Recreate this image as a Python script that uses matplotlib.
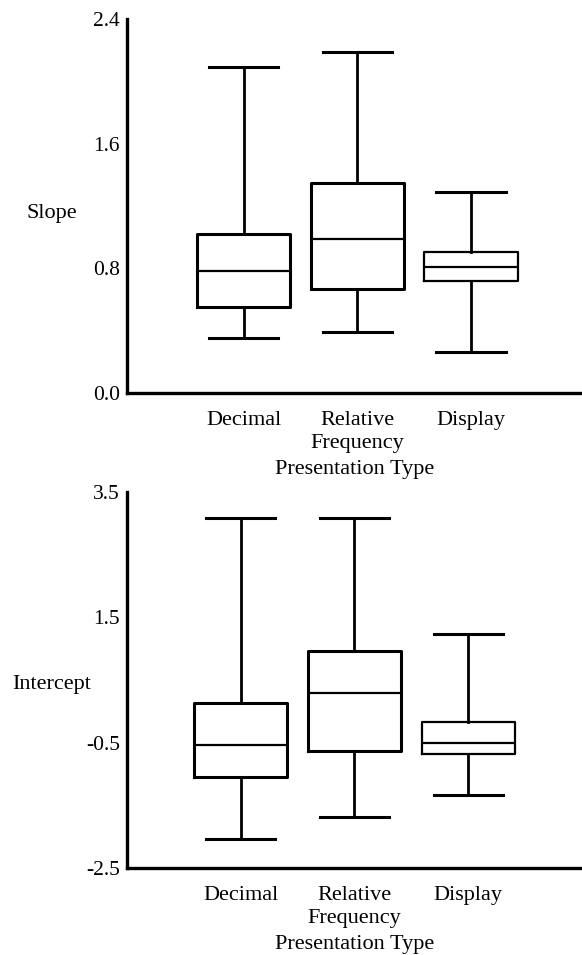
import matplotlib
matplotlib.use("Agg")
import matplotlib.pyplot as plt

# summary values per presentation type: lower whisker, Q1, median, Q3, upper whisker
categories = ["Decimal", "Relative\nFrequency", "Display"]

slope_low = [0.35, 0.39, 0.265]
slope_q1 = [0.55, 0.67, 0.72]
slope_med = [0.78, 0.985, 0.81]
slope_q3 = [1.02, 1.345, 0.905]
slope_high = [2.095, 2.19, 1.29]

intercept_low = [-2.04, -1.69, -1.34]
intercept_q1 = [-1.04, -0.63, -0.68]
intercept_med = [-0.54, 0.30, -0.50]
intercept_q3 = [0.14, 0.97, -0.165]
intercept_high = [3.08, 3.08, 1.23]

slope_ticks = [0.0, 0.8, 1.6, 2.4]
intercept_ticks = [-2.5, -0.5, 1.5, 3.5]

plt.rcParams["font.family"] = ["Liberation Serif", "DejaVu Serif"]


def box_stats(low, q1, med, q3, high):
  return [
    {"whislo": lo, "q1": a, "med": m, "q3": b, "whishi": hi, "fliers": []}
    for lo, a, m, b, hi in zip(low, q1, med, q3, high)
  ]


def draw_panel(ax, stats, ticks, fmt, ylabel, xlim, label_xy):
  positions = [1, 2, 3]
  art = ax.bxp(
    stats,
    positions=positions,
    widths=0.82,
    capwidths=0.61,
    showfliers=False,
    boxprops=dict(color="black", linewidth=2.2),
    medianprops=dict(color="black", linewidth=1.6),
    whiskerprops=dict(color="black", linewidth=2.0),
    capprops=dict(color="black", linewidth=2.2),
  )
  # the Display box is drawn with a lighter outline
  art["boxes"][2].set_linewidth(1.6)
  ax.set_xlim(*xlim)
  ax.set_ylim(ticks[0], ticks[-1])
  ax.set_yticks(ticks)
  ax.set_yticklabels([fmt.format(t) for t in ticks], fontsize=15.5)
  ax.set_xticks(positions)
  ax.set_xticklabels(categories, fontsize=16, linespacing=1.3)
  ax.tick_params(axis="both", length=0)
  ax.tick_params(axis="y", pad=5)
  ax.tick_params(axis="x", pad=13)
  for side in ("top", "right"):
    ax.spines[side].set_visible(False)
  for side in ("left", "bottom"):
    ax.spines[side].set_linewidth(2.4)
  ax.set_xlabel("Presentation Type", fontsize=16, labelpad=5)
  ax.set_ylabel(ylabel, fontsize=16, rotation=0, ha="center", va="center")
  ax.yaxis.set_label_coords(*label_xy)


fig = plt.figure(figsize=(5.82, 9.55), dpi=100)
ax_top = fig.add_axes([0.2182, 0.5885, 0.7818, 0.3916])
ax_bot = fig.add_axes([0.2182, 0.0911, 0.7818, 0.3937])

draw_panel(
  ax_top,
  box_stats(slope_low, slope_q1, slope_med, slope_q3, slope_high),
  slope_ticks, "{:.1f}", "Slope", (-0.025, 3.975), (-0.165, 0.481),
)
draw_panel(
  ax_bot,
  box_stats(intercept_low, intercept_q1, intercept_med, intercept_q3, intercept_high),
  intercept_ticks, "{:.1f}", "Intercept", (0.0, 4.0), (-0.166, 0.487),
)

fig.savefig("out.png", dpi=100)
